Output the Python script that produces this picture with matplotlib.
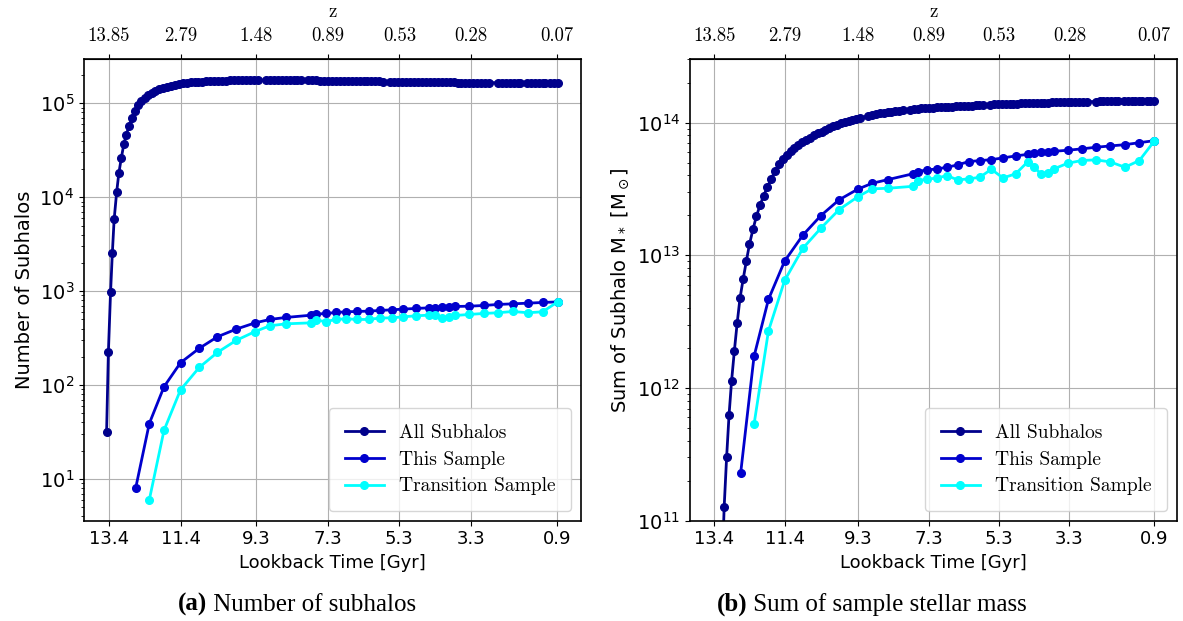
#!/usr/bin/env python3
# -*- coding: utf-8 -*-
import matplotlib
matplotlib.use("Agg")
import matplotlib.pyplot as plt

# lookback time [Gyr] of every snapshot used for "All Subhalos"
t_all = [13.46, 13.41, 13.35, 13.30, 13.25, 13.18, 13.12, 13.05, 12.98, 12.91,
         12.83, 12.75, 12.67, 12.58, 12.49, 12.40, 12.30, 12.20, 12.10, 12.00,
         11.89, 11.78, 11.67, 11.56, 11.45, 11.34, 11.23, 11.12, 11.01, 10.90,
         10.79, 10.68, 10.57, 10.46, 10.35, 10.24, 10.13, 10.02, 9.91, 9.80,
         9.69, 9.58, 9.47, 9.36, 9.25, 9.02, 8.91, 8.80, 8.69, 8.58,
         8.47, 8.36, 8.25, 8.14, 8.03, 7.84, 7.73, 7.62, 7.51, 7.40,
         7.29, 7.18, 7.07, 6.96, 6.85, 6.74, 6.63, 6.52, 6.41, 6.30,
         6.19, 6.08, 5.97, 5.86, 5.75, 5.55, 5.44, 5.33, 5.22, 5.11,
         5.00, 4.89, 4.78, 4.67, 4.56, 4.45, 4.34, 4.23, 4.12, 4.01,
         3.90, 3.79, 3.68, 3.57, 3.46, 3.35, 3.24, 3.13, 3.02, 2.91,
         2.80, 2.55, 2.44, 2.33, 2.22, 2.11, 2.00, 1.93, 1.75, 1.64,
         1.53, 1.42, 1.31, 1.24, 1.10, 1.00, 0.89]

n_all = [32, 226, 968, 2550, 5800, 11300, 17900, 26200, 36600, 46400,
         58000, 69900, 82300, 95300, 106000, 115000, 123000, 130000, 136000, 141000,
         146000, 150000, 154000, 158000, 161000, 163000, 165000, 167000, 168000, 169500,
         170500, 171500, 172500, 173000, 173500, 174000, 174500, 175000, 175500, 175500,
         176000, 176000, 176000, 176500, 176500, 176500, 176500, 176500, 176500, 176000,
         176000, 176000, 176000, 175500, 175500, 175000, 175000, 175000, 174500, 174500,
         174000, 174000, 173500, 173500, 173000, 173000, 172500, 172500, 172000, 172000,
         171500, 171500, 171000, 171000, 170500, 170000, 170000, 169500, 169500, 169000,
         169000, 168500, 168500, 168000, 168000, 168000, 167500, 167500, 167500, 167000,
         167000, 167000, 166500, 166500, 166500, 166500, 166000, 166000, 166000, 166000,
         166000, 165500, 165500, 165500, 165500, 165500, 165000, 165000, 165000, 165000,
         165000, 165000, 165000, 165000, 165000, 165000, 165000]

m_all = [1e8, 5e8, 2e9, 6e9, 1.5e10, 4e10, 1.26e11, 3.0e11, 6.3e11, 1.12e12,
         1.9e12, 3.08e12, 4.73e12, 6.6e12, 9.0e12, 1.21e13, 1.57e13, 1.98e13, 2.38e13, 2.8e13,
         3.26e13, 3.79e13, 4.30e13, 4.89e13, 5.36e13, 5.75e13, 6.1e13, 6.4e13, 6.75e13, 7.1e13,
         7.4e13, 7.7e13, 8.0e13, 8.3e13, 8.55e13, 8.8e13, 9.1e13, 9.35e13, 9.6e13, 9.85e13,
         1.01e14, 1.03e14, 1.05e14, 1.07e14, 1.09e14, 1.12e14, 1.14e14, 1.16e14, 1.18e14, 1.19e14,
         1.20e14, 1.21e14, 1.22e14, 1.23e14, 1.24e14, 1.255e14, 1.265e14, 1.27e14, 1.28e14, 1.285e14,
         1.29e14, 1.295e14, 1.30e14, 1.305e14, 1.31e14, 1.315e14, 1.32e14, 1.325e14, 1.33e14, 1.335e14,
         1.34e14, 1.345e14, 1.35e14, 1.355e14, 1.36e14, 1.365e14, 1.37e14, 1.375e14, 1.38e14, 1.38e14,
         1.385e14, 1.39e14, 1.39e14, 1.395e14, 1.40e14, 1.40e14, 1.405e14, 1.41e14, 1.41e14, 1.415e14,
         1.415e14, 1.42e14, 1.42e14, 1.425e14, 1.425e14, 1.43e14, 1.43e14, 1.43e14, 1.435e14, 1.435e14,
         1.44e14, 1.44e14, 1.445e14, 1.445e14, 1.445e14, 1.45e14, 1.45e14, 1.45e14, 1.455e14, 1.455e14,
         1.455e14, 1.46e14, 1.46e14, 1.46e14, 1.46e14, 1.46e14, 1.46e14]

# snapshots of the selected sample (transition sample starts one snapshot later)
t_sample = [12.65, 12.27, 11.86, 11.40, 10.88, 10.37, 9.85, 9.32, 8.91, 8.46,
            7.76, 7.62, 7.35, 7.06, 6.78, 6.48, 6.16, 5.85, 5.52, 5.19,
            4.83, 4.48, 4.30, 4.11, 3.91, 3.74, 3.35, 2.95, 2.55, 2.14,
            1.72, 1.31, 0.89]
t_trans = t_sample[1:]

n_sample = [8, 39, 96, 173, 246, 327, 394, 460, 500, 525,
            555, 569, 579, 593, 603, 608, 613, 623, 633, 644,
            655, 664, 670, 676, 681, 687, 692, 704, 722, 733,
            745, 758, 769]
n_trans = [6, 33, 89, 154, 223, 299, 372, 428, 449,
           460, 491, 475, 500, 508, 500, 500, 517, 520, 533,
           547, 555, 555, 520, 533, 551, 565, 579, 589, 608,
           589, 603, 769]

m_sample = [2.29e11, 1.73e12, 4.65e12, 9.04e12, 1.42e13, 1.99e13, 2.62e13, 3.15e13, 3.49e13, 3.72e13,
            4.11e13, 4.28e13, 4.40e13, 4.48e13, 4.61e13, 4.80e13, 5.09e13, 5.17e13, 5.26e13, 5.42e13,
            5.61e13, 5.77e13, 5.92e13, 6.02e13, 6.05e13, 6.08e13, 6.19e13, 6.34e13, 6.52e13, 6.67e13,
            6.82e13, 7.06e13, 7.31e13]
m_trans = [5.32e11, 2.69e12, 6.46e12, 1.13e13, 1.60e13, 2.21e13, 2.76e13, 3.17e13, 3.20e13,
           3.31e13, 3.66e13, 3.74e13, 3.83e13, 3.99e13, 3.70e13, 3.77e13, 3.87e13, 4.45e13, 3.83e13,
           4.11e13, 5.08e13, 4.61e13, 4.11e13, 4.15e13, 4.48e13, 4.94e13, 5.18e13, 5.24e13, 5.06e13,
           4.61e13, 5.18e13, 7.23e13]

t_ticks = [13.4, 11.4, 9.3, 7.3, 5.3, 3.3, 0.9]
t_tick_labels = ["13.4", "11.4", "9.3", "7.3", "5.3", "3.3", "0.9"]
z_tick_labels = ["13.85", "2.79", "1.48", "0.89", "0.53", "0.28", "0.07"]

SERIF_CM = ["cmr10", "DejaVu Serif"]
CAP_FONT = ["Liberation Serif", "DejaVu Serif"]
plt.rcParams["axes.formatter.use_mathtext"] = True

fig = plt.figure(figsize=(11.83, 6.21), dpi=100)
ax1 = fig.add_axes([0.0710, 0.1615, 0.4201, 0.743])
ax2 = fig.add_axes([0.5833, 0.1615, 0.4116, 0.743])


def draw_panel(ax, y_all, y_sample, y_trans, ylabel, ylim):
    kw = dict(marker="o", markersize=5.5, linewidth=2)
    ax.plot(t_all, y_all, color="darkblue", label="All Subhalos", **kw)
    ax.plot(t_sample, y_sample, color="mediumblue", label="This Sample", **kw)
    ax.plot(t_trans, y_trans, color="cyan", label="Transition Sample", **kw)
    ax.set_yscale("log")
    ax.set_xlim(14.09, 0.24)
    ax.set_ylim(*ylim)
    ax.set_xticks(t_ticks, t_tick_labels)
    ax.tick_params(axis="x", labelsize=13)
    ax.tick_params(axis="y", labelsize=14)
    ax.grid(True, which="major")
    ax.set_xlabel("Lookback Time [Gyr]", fontsize=13)
    ax.set_ylabel(ylabel, fontsize=14)
    for sp in ax.spines.values():
        sp.set_linewidth(1.2)
    ax.legend(loc="lower right", prop={"family": SERIF_CM, "size": 14},
              borderpad=0.8, labelspacing=0.45)

    top = ax.secondary_xaxis("top")
    top.set_xticks(t_ticks, z_tick_labels, fontfamily=SERIF_CM, fontsize=13.5)
    top.tick_params(axis="x", pad=7)
    top.set_xlabel("z", fontfamily=SERIF_CM, fontsize=13.5, labelpad=7)


draw_panel(ax1, n_all, n_sample, n_trans, "Number of Subhalos", (3.6, 2.94e5))
draw_panel(ax2, m_all, m_sample, m_trans, r"Sum of Subhalo M$_*$ [M$_\odot$]", (1e11, 3e14))


def caption(xc_px, tag, text):
    y = 0.016
    a = fig.text(0, y, tag, fontweight="bold", family=CAP_FONT, fontsize=18, va="baseline")
    b = fig.text(0, y, "\u00a0" + text, family=CAP_FONT, fontsize=18, va="baseline")
    fig.canvas.draw()
    r = fig.canvas.get_renderer()
    wa = a.get_window_extent(r).width
    wb = b.get_window_extent(r).width
    x0 = xc_px - (wa + wb) / 2
    a.set_x(x0 / fig.bbox.width)
    b.set_x((x0 + wa) / fig.bbox.width)


caption(297, "(a)", "Number of subhalos")
caption(872, "(b)", "Sum of sample stellar mass")

fig.savefig("out.png", dpi=100)
